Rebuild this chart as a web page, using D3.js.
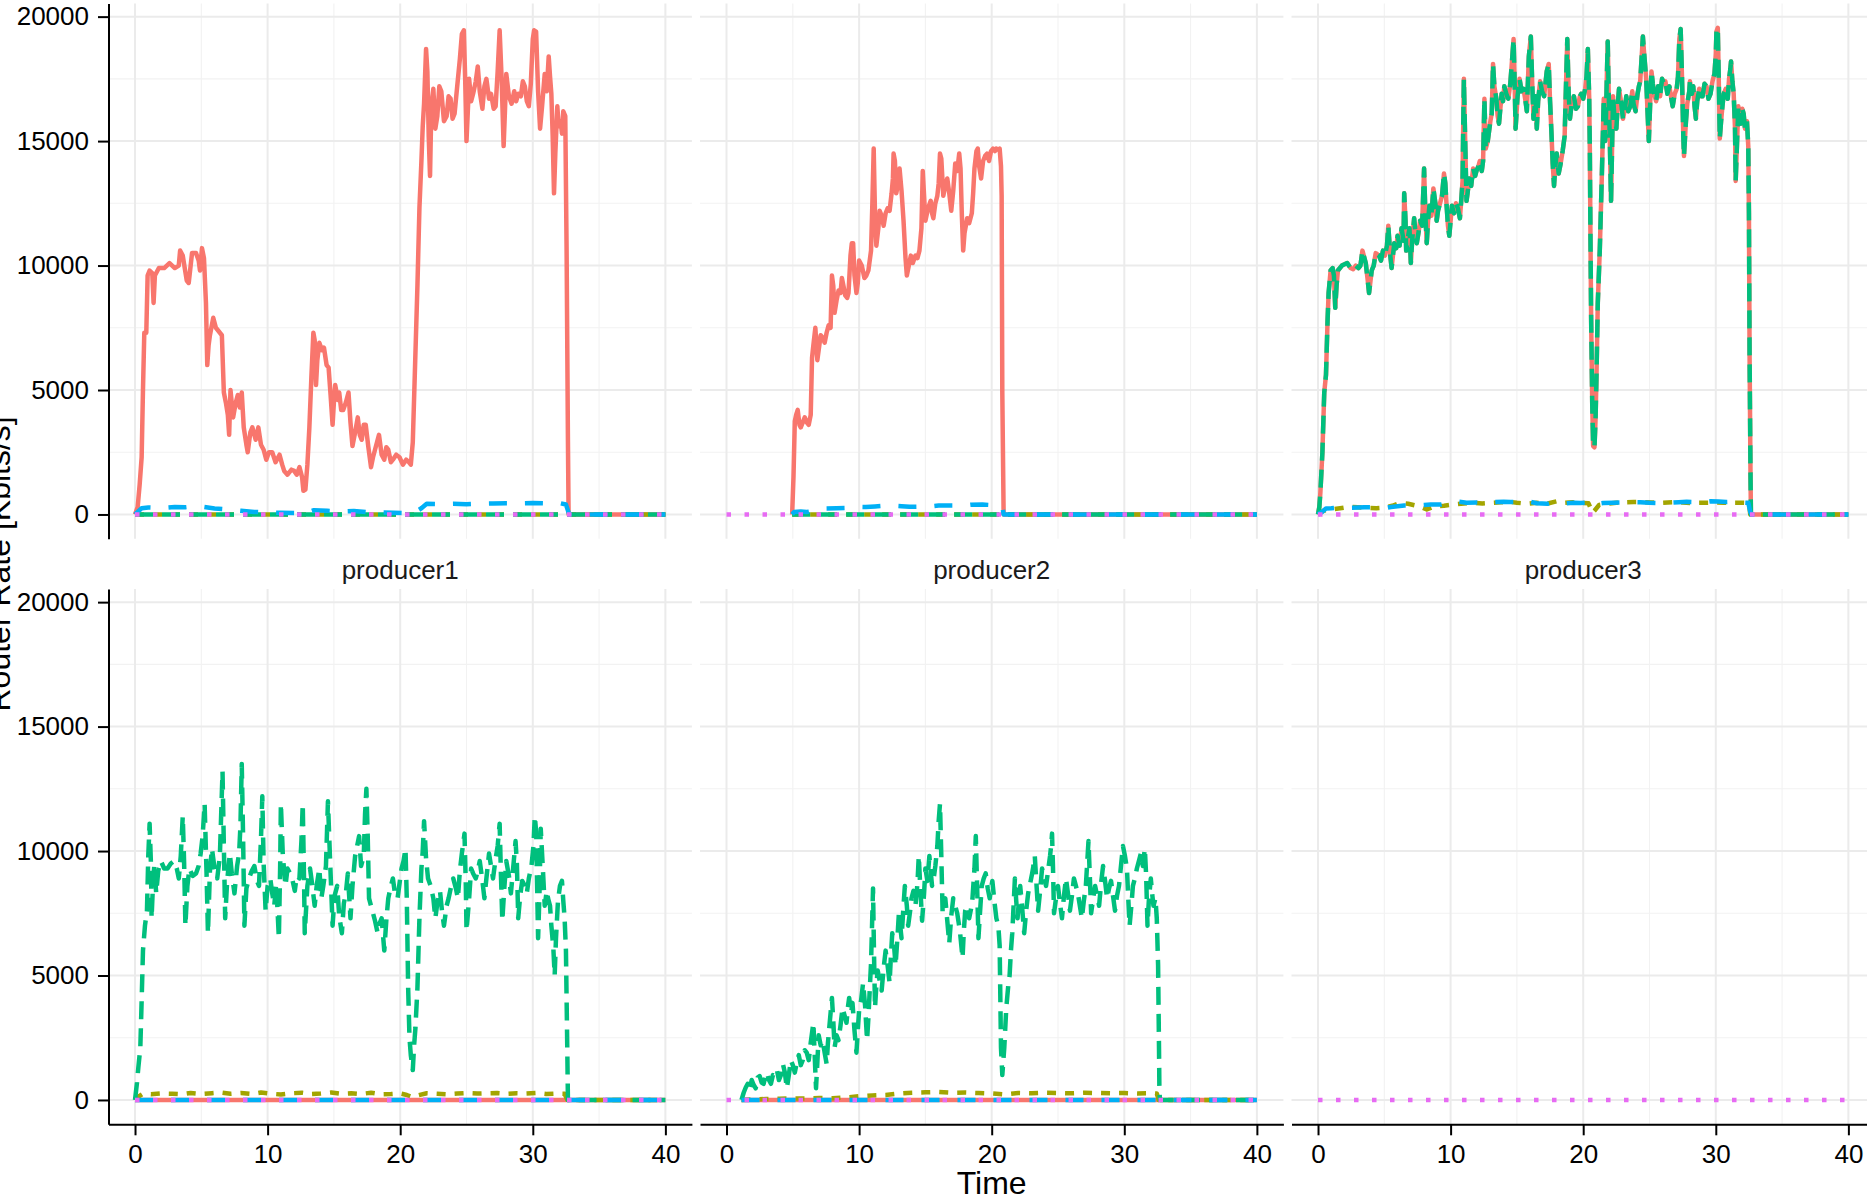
<!DOCTYPE html>
<html>
<head>
<meta charset="utf-8">
<script src="https://cdn.jsdelivr.net/npm/d3@7"></script>
<style>
  html, body { margin: 0; padding: 0; background: #ffffff; }
  svg { display: block; }
  text { font-family: "Liberation Sans", Arial, Helvetica, sans-serif; }
</style>
</head>
<body>
<div id="chart"></div>
<script>
// ---------------- data ----------------
const timeTicks = [0, 10, 20, 30, 40];
const rateTicks = [0, 5000, 10000, 15000, 20000];
const nodes = ["consumer1", "consumer2", "consumer3", "producer1", "producer2", "producer3"];
const types = ["InData", "InInterests", "OutData", "OutInterests", "TimedOutInterests"];
const xLabel = "Time";
const yLabel = "Router Rate [Kbits/s]";

// consumer1
const consumer1_InData = [[0,0],[0.2,300],[0.35,1200],[0.5,2300],[0.6,5000],[0.7,7300],[0.85,7300],[0.95,9600],[1.1,9800],[1.3,9700],[1.4,8500],[1.5,9600],[1.8,9900],[2.2,9900],[2.6,10100],[3.0,9900],[3.3,10000],[3.4,10600],[3.6,10400],[3.9,9400],[4.05,9300],[4.3,10500],[4.6,10500],[4.8,10200],[4.9,9800],[5.05,10700],[5.2,10300],[5.35,8500],[5.45,6000],[5.55,6800],[5.65,7200],[5.9,7900],[6.1,7500],[6.4,7300],[6.55,7200],[6.7,4900],[6.85,4500],[7.0,4000],[7.1,3200],[7.2,5000],[7.4,3900],[7.6,4500],[7.75,4800],[7.9,4300],[8.05,4900],[8.2,3500],[8.4,2800],[8.5,2500],[8.7,3300],[8.85,3500],[9.1,3000],[9.3,3500],[9.5,2800],[9.7,2600],[9.9,2200],[10.1,2500],[10.35,2500],[10.6,2100],[10.9,2400],[11.1,2000],[11.25,1750],[11.5,1600],[11.8,1800],[12.0,1750],[12.2,1600],[12.4,1900],[12.6,1500],[12.7,950],[12.85,1000],[13.0,2000],[13.15,3500],[13.3,5500],[13.45,7300],[13.55,7000],[13.65,5200],[13.75,6200],[13.9,6900],[14.1,6600],[14.25,6700],[14.45,6000],[14.6,5900],[14.75,4800],[14.9,3600],[15.0,4500],[15.1,5200],[15.3,4600],[15.4,4900],[15.55,4200],[15.7,4200],[15.9,4500],[16.1,4900],[16.25,3700],[16.4,2750],[16.6,3300],[16.8,3900],[16.95,3200],[17.1,3000],[17.25,3600],[17.4,3600],[17.6,2700],[17.8,1900],[17.95,2300],[18.1,2600],[18.25,2900],[18.4,3200],[18.6,2400],[18.8,2200],[18.95,2700],[19.1,2600],[19.3,2100],[19.45,2200],[19.7,2400],[19.95,2300],[20.2,2000],[20.45,2200],[20.65,2100],[20.8,2000],[20.95,2900],[21.1,5600],[21.3,9200],[21.45,12300],[21.6,14200],[21.7,15600],[21.8,16500],[21.95,18700],[22.05,17800],[22.15,15200],[22.25,13600],[22.35,16400],[22.5,17100],[22.65,15500],[22.8,16000],[22.95,17200],[23.1,17000],[23.3,15800],[23.5,16000],[23.65,16800],[23.8,16700],[23.95,15900],[24.1,16100],[24.3,17200],[24.5,18300],[24.65,19300],[24.8,19450],[24.9,17500],[25.0,15000],[25.1,16200],[25.2,17500],[25.35,16600],[25.5,16900],[25.7,17400],[25.85,18000],[26.0,17000],[26.2,16300],[26.35,17200],[26.5,17500],[26.7,16700],[26.85,16900],[27.05,16300],[27.2,16400],[27.35,17800],[27.5,19450],[27.65,17500],[27.8,14800],[27.9,16200],[28.0,17700],[28.2,16800],[28.4,16500],[28.6,17000],[28.75,16600],[28.9,16900],[29.1,16800],[29.25,17400],[29.4,17200],[29.55,16600],[29.7,16400],[29.85,17300],[30.0,19100],[30.1,19450],[30.25,19400],[30.4,17000],[30.55,15500],[30.7,16400],[30.9,17700],[31.05,17000],[31.2,18400],[31.3,17600],[31.4,16900],[31.5,15200],[31.6,12900],[31.7,14500],[31.85,16400],[31.95,15600],[32.1,15800],[32.2,15300],[32.3,16200],[32.45,16000],[32.55,10600],[32.65,3000],[32.7,0],[40,0]];
const consumer1_InInterests = [[0,0],[40,0]];
const consumer1_OutData = [[0,0],[40,0]];
const consumer1_OutInterests = [[0,0],[0.3,150],[0.5,250],[1,280],[2,260],[3,300],[3.8,290],[4.5,330],[5.2,300],[6,240],[7,200],[8,150],[9,100],[10,80],[11,70],[12,60],[13,80],[13.5,170],[14.5,150],[15.5,120],[16.5,140],[17.5,90],[18.5,80],[19.5,70],[20.5,60],[21.2,120],[21.6,250],[22,430],[23,420],[24,430],[25,410],[26,430],[27,440],[28,450],[29,450],[30,460],[31,450],[32,460],[32.5,400],[32.75,0],[40,0]];
const consumer1_TimedOutInterests = [[0,0],[40,0]];

// consumer2
const consumer2_InData = [[4.95,0],[5.05,1500],[5.15,3750],[5.25,4000],[5.37,4200],[5.5,3600],[5.6,3500],[5.75,3700],[5.9,3900],[6.05,3700],[6.2,3600],[6.35,4000],[6.45,6300],[6.55,6800],[6.7,7500],[6.85,6200],[7.0,6800],[7.1,7200],[7.25,7100],[7.4,6900],[7.55,7300],[7.7,7600],[7.85,7500],[7.95,9600],[8.05,9200],[8.15,8100],[8.3,8600],[8.45,9000],[8.6,8900],[8.7,9500],[8.85,9100],[8.95,8800],[9.1,8700],[9.2,8900],[9.35,10400],[9.45,10900],[9.55,10900],[9.65,9600],[9.8,8900],[9.9,9300],[10.0,10200],[10.2,10000],[10.4,9500],[10.55,9600],[10.7,9800],[10.9,10600],[11.0,12500],[11.1,14700],[11.2,12000],[11.3,10800],[11.45,11500],[11.55,12200],[11.7,12000],[11.85,11600],[12.0,12100],[12.15,12300],[12.3,12200],[12.45,12900],[12.55,13500],[12.6,14500],[12.7,14200],[12.8,12900],[12.95,13300],[13.05,13900],[13.2,13000],[13.35,11800],[13.5,10300],[13.6,9600],[13.75,10000],[13.9,10400],[14.05,10100],[14.25,10400],[14.4,10300],[14.55,10600],[14.7,11500],[14.8,13800],[14.9,12800],[15.0,11800],[15.2,12300],[15.4,12600],[15.5,12100],[15.6,11900],[15.75,12500],[15.9,12800],[16.0,13300],[16.1,14500],[16.2,14300],[16.35,12800],[16.5,13200],[16.65,13500],[16.8,12900],[16.95,12200],[17.1,13000],[17.25,14100],[17.4,13800],[17.55,14500],[17.65,13900],[17.75,12000],[17.85,10600],[17.95,11300],[18.15,11900],[18.3,11700],[18.5,12100],[18.6,12900],[18.7,13900],[18.85,14600],[18.95,14700],[19.05,14000],[19.2,13500],[19.35,14200],[19.5,14400],[19.65,14500],[19.8,14200],[19.95,14600],[20.1,14700],[20.25,14600],[20.35,14700],[20.5,14650],[20.6,14700],[20.7,14000],[20.75,12800],[20.8,4900],[20.9,0],[40,0]];
const consumer2_InInterests = [[4.95,0],[40,0]];
const consumer2_OutData = [[4.95,0],[40,0]];
const consumer2_OutInterests = [[4.95,0],[5.1,100],[5.6,120],[6.05,100],[6.6,150],[7.4,240],[8.3,250],[9.0,260],[9.6,310],[10.5,300],[11.2,320],[11.7,340],[12.6,350],[13.2,330],[13.8,310],[14.85,320],[15.5,330],[16.0,360],[17.2,360],[17.8,350],[18.4,390],[19.3,400],[19.9,380],[20.5,340],[20.8,340],[20.9,0],[40,0]];
const consumer2_TimedOutInterests = [[0,0],[40,0]];

// consumer3
const consumer3_InData = [[0,0],[0.1,300],[0.18,900],[0.33,2500],[0.47,4900],[0.6,5600],[0.72,7800],[0.8,8900],[0.95,9800],[1.1,9900],[1.2,9600],[1.3,8300],[1.4,9200],[1.5,9800],[1.8,10000],[2.2,10100],[2.45,9900],[2.65,9850],[2.85,10000],[3.05,9900],[3.2,10000],[3.35,10600],[3.5,10300],[3.6,10100],[3.75,9400],[3.85,8900],[4.05,9800],[4.2,10000],[4.35,10500],[4.6,10400],[4.75,10200],[4.9,10600],[5.05,10400],[5.2,10800],[5.3,11600],[5.45,10400],[5.55,9900],[5.75,10900],[5.9,10700],[6.0,11200],[6.15,10800],[6.3,11500],[6.45,11000],[6.5,12900],[6.6,11800],[6.65,10600],[6.8,11200],[6.9,11500],[7.0,10100],[7.1,11000],[7.25,11900],[7.35,11300],[7.45,10900],[7.6,11400],[7.7,11800],[7.85,11600],[8.0,13900],[8.1,12000],[8.2,10900],[8.3,11800],[8.4,12400],[8.55,12000],[8.7,13100],[8.85,12500],[8.95,11800],[9.05,12200],[9.15,12400],[9.35,12800],[9.5,13700],[9.6,13300],[9.7,12400],[9.8,11600],[9.9,11200],[10.1,12400],[10.25,12100],[10.4,12500],[10.55,12300],[10.7,11900],[10.8,12600],[10.9,13400],[10.95,15500],[11.0,17500],[11.1,15000],[11.2,12600],[11.3,13000],[11.4,13500],[11.55,13200],[11.7,13900],[11.85,13600],[11.95,13800],[12.1,14000],[12.2,14200],[12.35,13800],[12.45,14200],[12.55,16700],[12.65,14700],[12.8,15000],[12.9,15400],[13.0,15800],[13.1,16100],[13.2,18100],[13.3,17200],[13.45,16700],[13.55,16000],[13.65,15700],[13.75,16300],[13.85,16900],[13.95,16600],[14.05,17200],[14.2,16900],[14.35,16700],[14.5,17300],[14.6,18000],[14.75,19100],[14.82,17600],[14.9,15500],[15.05,16800],[15.2,17500],[15.35,17000],[15.5,17100],[15.65,16600],[15.75,16200],[15.9,18400],[16.05,19200],[16.15,17400],[16.25,15900],[16.4,16800],[16.5,15500],[16.6,16600],[16.75,17400],[16.9,17000],[17.05,16800],[17.15,17300],[17.25,17800],[17.4,18100],[17.5,16600],[17.6,15400],[17.7,14100],[17.8,13200],[17.9,14000],[18.0,14500],[18.15,13700],[18.3,14100],[18.45,14600],[18.6,15200],[18.7,17200],[18.8,19100],[18.9,17000],[19.0,15900],[19.15,16600],[19.3,16800],[19.45,16300],[19.6,16400],[19.75,16800],[19.85,16900],[20.0,16700],[20.15,17100],[20.25,17600],[20.35,18700],[20.45,16800],[20.5,14700],[20.55,11000],[20.6,7800],[20.68,4500],[20.75,2750],[20.85,2700],[20.93,3800],[21.0,5500],[21.1,8500],[21.25,10600],[21.4,13500],[21.55,16700],[21.65,15000],[21.7,15500],[21.78,17500],[21.85,19000],[21.92,17000],[22.0,15200],[22.1,12600],[22.18,14800],[22.25,16800],[22.35,16000],[22.5,15500],[22.6,16400],[22.7,17100],[22.85,16600],[23.0,15900],[23.15,16300],[23.25,16800],[23.4,16200],[23.55,16400],[23.7,17000],[23.8,16500],[23.95,16200],[24.1,16900],[24.2,17200],[24.3,17400],[24.4,18300],[24.5,19200],[24.6,18500],[24.75,17500],[24.85,16200],[24.95,15000],[25.05,16500],[25.15,17800],[25.25,17300],[25.35,16900],[25.5,16600],[25.65,17200],[25.8,16800],[25.95,17500],[26.1,17300],[26.2,17400],[26.35,16900],[26.5,17200],[26.65,16700],[26.75,16400],[26.9,16900],[27.05,17100],[27.15,17600],[27.25,19100],[27.35,19500],[27.45,17600],[27.55,15200],[27.6,14400],[27.75,15800],[27.85,16500],[28.0,17000],[28.05,17400],[28.2,16900],[28.3,17200],[28.4,16400],[28.5,15900],[28.6,16600],[28.75,17100],[28.9,16800],[29.0,16800],[29.15,17300],[29.3,17200],[29.45,16700],[29.6,16900],[29.75,17400],[29.9,17700],[30.0,18500],[30.05,19400],[30.15,19550],[30.22,17600],[30.3,15100],[30.4,15800],[30.5,16400],[30.6,16900],[30.75,17100],[30.9,16700],[31.0,17500],[31.1,17900],[31.15,18200],[31.25,17400],[31.35,16900],[31.45,15500],[31.5,13400],[31.6,14900],[31.7,16400],[31.8,15900],[31.9,15700],[32.0,16300],[32.1,16100],[32.2,15500],[32.35,15800],[32.45,14800],[32.5,12100],[32.55,6300],[32.62,1500],[32.65,0],[40,0]];
const consumer3_InInterests = [[0,0],[0.4,150],[1.0,200],[1.8,260],[2.4,310],[3.0,290],[3.6,260],[4.4,250],[5.0,270],[5.6,350],[6.2,470],[6.8,430],[7.6,330],[8.2,200],[8.8,330],[9.5,350],[10.2,400],[11.0,440],[11.8,460],[12.4,440],[13.2,470],[13.8,490],[14.4,510],[15.0,470],[15.8,430],[16.5,470],[17.3,440],[18.0,530],[18.6,470],[19.2,490],[19.8,460],[20.4,450],[20.6,200],[20.7,70],[20.85,150],[21.2,380],[21.8,430],[22.5,470],[23.2,490],[23.8,500],[24.5,500],[25.2,480],[26.0,470],[26.8,490],[27.5,480],[28.2,460],[29.0,470],[29.8,480],[30.6,470],[31.4,470],[32.0,470],[32.5,460],[32.6,0],[40,0]];
const consumer3_OutData = [[0,0],[0.1,300],[0.18,900],[0.33,2500],[0.47,4900],[0.6,5600],[0.72,7800],[0.8,8900],[0.95,9800],[1.1,9900],[1.2,9600],[1.3,8300],[1.4,9200],[1.5,9800],[1.8,10000],[2.2,10100],[2.45,9900],[2.65,9850],[2.85,10000],[3.05,9900],[3.2,10000],[3.35,10600],[3.5,10300],[3.6,10100],[3.75,9400],[3.85,8900],[4.05,9800],[4.2,10000],[4.35,10500],[4.6,10400],[4.75,10200],[4.9,10600],[5.05,10400],[5.2,10800],[5.3,11600],[5.45,10400],[5.55,9900],[5.75,10900],[5.9,10700],[6.0,11200],[6.15,10800],[6.3,11500],[6.45,11000],[6.5,12900],[6.6,11800],[6.65,10600],[6.8,11200],[6.9,11500],[7.0,10100],[7.1,11000],[7.25,11900],[7.35,11300],[7.45,10900],[7.6,11400],[7.7,11800],[7.85,11600],[8.0,13900],[8.1,12000],[8.2,10900],[8.3,11800],[8.4,12400],[8.55,12000],[8.7,13100],[8.85,12500],[8.95,11800],[9.05,12200],[9.15,12400],[9.35,12800],[9.5,13700],[9.6,13300],[9.7,12400],[9.8,11600],[9.9,11200],[10.1,12400],[10.25,12100],[10.4,12500],[10.55,12300],[10.7,11900],[10.8,12600],[10.9,13400],[10.95,15500],[11.0,17500],[11.1,15000],[11.2,12600],[11.3,13000],[11.4,13500],[11.55,13200],[11.7,13900],[11.85,13600],[11.95,13800],[12.1,14000],[12.2,14200],[12.35,13800],[12.45,14200],[12.55,16700],[12.65,14700],[12.8,15000],[12.9,15400],[13.0,15800],[13.1,16100],[13.2,18100],[13.3,17200],[13.45,16700],[13.55,16000],[13.65,15700],[13.75,16300],[13.85,16900],[13.95,16600],[14.05,17200],[14.2,16900],[14.35,16700],[14.5,17300],[14.6,18000],[14.75,19100],[14.82,17600],[14.9,15500],[15.05,16800],[15.2,17500],[15.35,17000],[15.5,17100],[15.65,16600],[15.75,16200],[15.9,18400],[16.05,19200],[16.15,17400],[16.25,15900],[16.4,16800],[16.5,15500],[16.6,16600],[16.75,17400],[16.9,17000],[17.05,16800],[17.15,17300],[17.25,17800],[17.4,18100],[17.5,16600],[17.6,15400],[17.7,14100],[17.8,13200],[17.9,14000],[18.0,14500],[18.15,13700],[18.3,14100],[18.45,14600],[18.6,15200],[18.7,17200],[18.8,19100],[18.9,17000],[19.0,15900],[19.15,16600],[19.3,16800],[19.45,16300],[19.6,16400],[19.75,16800],[19.85,16900],[20.0,16700],[20.15,17100],[20.25,17600],[20.35,18700],[20.45,16800],[20.5,14700],[20.55,11000],[20.6,7800],[20.68,4500],[20.75,2750],[20.85,2700],[20.93,3800],[21.0,5500],[21.1,8500],[21.25,10600],[21.4,13500],[21.55,16700],[21.65,15000],[21.7,15500],[21.78,17500],[21.85,19000],[21.92,17000],[22.0,15200],[22.1,12600],[22.18,14800],[22.25,16800],[22.35,16000],[22.5,15500],[22.6,16400],[22.7,17100],[22.85,16600],[23.0,15900],[23.15,16300],[23.25,16800],[23.4,16200],[23.55,16400],[23.7,17000],[23.8,16500],[23.95,16200],[24.1,16900],[24.2,17200],[24.3,17400],[24.4,18300],[24.5,19200],[24.6,18500],[24.75,17500],[24.85,16200],[24.95,15000],[25.05,16500],[25.15,17800],[25.25,17300],[25.35,16900],[25.5,16600],[25.65,17200],[25.8,16800],[25.95,17500],[26.1,17300],[26.2,17400],[26.35,16900],[26.5,17200],[26.65,16700],[26.75,16400],[26.9,16900],[27.05,17100],[27.15,17600],[27.25,19100],[27.35,19500],[27.45,17600],[27.55,15200],[27.6,14400],[27.75,15800],[27.85,16500],[28.0,17000],[28.05,17400],[28.2,16900],[28.3,17200],[28.4,16400],[28.5,15900],[28.6,16600],[28.75,17100],[28.9,16800],[29.0,16800],[29.15,17300],[29.3,17200],[29.45,16700],[29.6,16900],[29.75,17400],[29.9,17700],[30.0,18500],[30.05,19400],[30.15,19550],[30.22,17600],[30.3,15100],[30.4,15800],[30.5,16400],[30.6,16900],[30.75,17100],[30.9,16700],[31.0,17500],[31.1,17900],[31.15,18200],[31.25,17400],[31.35,16900],[31.45,15500],[31.5,13400],[31.6,14900],[31.7,16400],[31.8,15900],[31.9,15700],[32.0,16300],[32.1,16100],[32.2,15500],[32.35,15800],[32.45,14800],[32.5,12100],[32.55,6300],[32.62,1500],[32.65,0],[40,0]];
const consumer3_OutInterests = [[0,0],[0.3,100],[0.6,240],[1.0,250],[1.5,270],[2.3,270],[3.0,280],[3.5,290],[4.3,290],[5.0,250],[5.5,300],[6.0,330],[6.5,360],[7.3,360],[8.0,380],[8.5,400],[9.3,400],[10.0,470],[10.5,520],[11.2,470],[12.0,480],[12.5,470],[13.2,500],[14.0,510],[14.5,500],[15.2,500],[16.0,510],[16.5,450],[17.3,430],[17.8,500],[18.5,440],[19.3,470],[19.8,460],[20.3,470],[20.6,400],[20.75,350],[21.0,420],[21.5,460],[22.3,470],[23.0,480],[23.5,500],[24.3,490],[25.0,470],[25.6,460],[26.5,470],[27.2,490],[27.8,510],[28.4,500],[29.0,490],[29.6,530],[30.2,520],[30.8,500],[31.4,510],[32.0,480],[32.45,470],[32.6,100],[32.7,0],[40,0]];
const consumer3_TimedOutInterests = [[0,0],[40,0]];

// producer1
const producer1_InData = [[0,0],[40,0]];
const producer1_InInterests = [[0,0],[0.3,150],[0.6,250],[1.2,230],[2.0,260],[2.8,250],[3.5,230],[4.2,280],[5.0,240],[5.8,270],[6.5,300],[7.2,250],[8.0,280],[8.8,240],[9.5,300],[10.3,250],[11.0,220],[11.8,270],[12.6,290],[13.3,240],[14.0,260],[14.8,300],[15.5,250],[16.3,270],[17.0,240],[17.8,290],[18.5,230],[19.3,240],[20.0,260],[20.5,200],[20.9,120],[21.3,180],[22.0,270],[22.8,250],[23.5,230],[24.3,260],[25.0,280],[25.8,260],[26.5,270],[27.3,280],[28.0,250],[28.8,270],[29.5,260],[30.3,280],[31.0,240],[31.8,260],[32.4,250],[32.6,0],[40,0]];
const producer1_OutData = [[0,0],[0.15,700],[0.25,1300],[0.4,2100],[0.5,4000],[0.6,6000],[0.75,7000],[0.9,7600],[1.0,9800],[1.1,11100],[1.2,9500],[1.25,7300],[1.35,8600],[1.45,9400],[1.6,8300],[1.75,9200],[1.95,9600],[2.2,9300],[2.45,9300],[2.7,9500],[2.95,9600],[3.15,9300],[3.3,8900],[3.45,9800],[3.6,11400],[3.7,9600],[3.8,7000],[3.95,8600],[4.1,9300],[4.35,9000],[4.6,9100],[4.8,9400],[4.95,9900],[5.1,10600],[5.25,11900],[5.4,9000],[5.5,6700],[5.65,9200],[5.8,10100],[6.0,9300],[6.2,8900],[6.4,9800],[6.6,13200],[6.7,10200],[6.8,7300],[6.95,8800],[7.15,9900],[7.3,9100],[7.5,8300],[7.7,9400],[7.85,9900],[7.95,11000],[8.05,13500],[8.15,10600],[8.25,7000],[8.4,8500],[8.6,8900],[8.8,9200],[9.0,9400],[9.2,8800],[9.35,8600],[9.5,10500],[9.6,12200],[9.7,9500],[9.85,7600],[10.0,8600],[10.2,8900],[10.35,8300],[10.5,7800],[10.65,8700],[10.85,6500],[10.95,9500],[11.0,11900],[11.15,9800],[11.35,8600],[11.5,9300],[11.7,9100],[11.85,8900],[12.05,8400],[12.2,9000],[12.4,8900],[12.55,10400],[12.65,11900],[12.75,8800],[12.8,6700],[13.0,8600],[13.2,9300],[13.35,8700],[13.55,7800],[13.7,8600],[13.9,9300],[14.05,8100],[14.2,8600],[14.4,9400],[14.55,12000],[14.7,9800],[14.9,7000],[15.05,8200],[15.25,8600],[15.4,7400],[15.6,6700],[15.75,7900],[15.9,8300],[16.05,9100],[16.25,7300],[16.4,8600],[16.6,9800],[16.75,10200],[16.9,10600],[17.05,9400],[17.25,9800],[17.35,11500],[17.45,12500],[17.55,10600],[17.65,8100],[17.8,7800],[17.95,7500],[18.1,7200],[18.3,6700],[18.45,7100],[18.6,7300],[18.8,6000],[18.95,7200],[19.1,8100],[19.3,8600],[19.45,8900],[19.6,8300],[19.8,8100],[19.95,8700],[20.1,9300],[20.25,9600],[20.4,10100],[20.5,8000],[20.6,4500],[20.7,2500],[20.8,1800],[20.95,1200],[21.05,2200],[21.15,2900],[21.3,4500],[21.45,7300],[21.6,9300],[21.7,10000],[21.8,11200],[21.95,9700],[22.1,8900],[22.3,8600],[22.5,8100],[22.65,7300],[22.8,7900],[23.0,8400],[23.15,7600],[23.3,7000],[23.5,7800],[23.65,8100],[23.85,8600],[24.0,8900],[24.2,8500],[24.35,8100],[24.5,9200],[24.65,9900],[24.85,10700],[24.95,8600],[25.0,6800],[25.2,8100],[25.35,9300],[25.5,9100],[25.7,8900],[25.85,9200],[26.0,9600],[26.2,8800],[26.35,8100],[26.5,8900],[26.7,9900],[26.85,9400],[27.0,8900],[27.2,9700],[27.35,10200],[27.5,11100],[27.6,9000],[27.7,7200],[27.85,8500],[28.0,9600],[28.2,9000],[28.35,8300],[28.5,9200],[28.7,10400],[28.8,9500],[28.9,7300],[29.05,8200],[29.2,8800],[29.4,8600],[29.55,8300],[29.7,8900],[29.9,9400],[30.05,10200],[30.15,11400],[30.25,10800],[30.4,6500],[30.5,8200],[30.6,10900],[30.75,9400],[30.9,7800],[31.05,8400],[31.15,8100],[31.3,7800],[31.4,7000],[31.55,6100],[31.65,5000],[31.75,6500],[31.9,8000],[32.05,8600],[32.2,8800],[32.3,8000],[32.4,7300],[32.5,6000],[32.6,2100],[32.65,0],[40,0]];
const producer1_OutInterests = [[0,0],[40,0]];
const producer1_TimedOutInterests = [[0,0],[40,0]];

// producer2
const producer2_InData = [[1.13,0],[40,0]];
const producer2_InInterests = [[1.13,0],[2.0,20],[3.0,40],[4.0,50],[5.0,60],[6.0,60],[7.0,80],[8.0,70],[9.0,100],[10.0,150],[11.0,180],[12.0,200],[13.0,260],[14.0,290],[15.0,310],[16.0,320],[17.0,290],[18.0,300],[19.0,280],[20.0,260],[21.0,220],[22.0,280],[23.0,270],[24.0,290],[25.0,280],[26.0,270],[27.0,290],[28.0,280],[29.0,270],[30.0,280],[31.0,260],[32.0,270],[32.45,260],[32.6,0],[40,0]];
const producer2_OutData = [[1.13,0],[1.3,300],[1.45,500],[1.6,650],[1.75,400],[1.9,800],[2.05,600],[2.2,470],[2.35,900],[2.5,960],[2.65,700],[2.8,650],[2.95,1000],[3.05,1100],[3.2,800],[3.35,650],[3.5,1000],[3.65,960],[3.8,1200],[3.95,800],[4.1,1000],[4.25,1450],[4.4,1100],[4.55,470],[4.7,1000],[4.85,1600],[5.0,1400],[5.15,1100],[5.3,1500],[5.45,1800],[5.6,1400],[5.75,1600],[5.9,2000],[6.05,1900],[6.2,1600],[6.35,2300],[6.45,2700],[6.55,3100],[6.65,1800],[6.75,470],[6.85,1500],[6.95,2600],[7.1,2200],[7.25,2400],[7.4,1900],[7.55,1450],[7.65,2300],[7.75,2900],[7.85,3500],[7.95,4100],[8.05,3200],[8.15,2100],[8.3,2600],[8.45,2400],[8.6,3000],[8.75,3700],[8.9,3400],[9.05,3100],[9.15,3700],[9.25,4100],[9.4,3500],[9.5,3900],[9.65,2800],[9.8,1900],[9.9,2800],[10.0,3600],[10.15,4000],[10.3,4700],[10.45,3800],[10.6,2400],[10.7,3300],[10.8,4400],[10.9,5500],[11.0,7500],[11.05,8500],[11.12,6000],[11.2,3700],[11.3,4600],[11.4,5200],[11.55,4800],[11.7,4400],[11.85,5300],[12.0,6000],[12.15,5400],[12.3,4700],[12.4,5800],[12.5,6700],[12.65,6100],[12.75,5400],[12.9,6600],[13.0,7500],[13.1,7000],[13.2,6500],[13.35,7800],[13.45,8600],[13.6,7800],[13.7,7000],[13.85,7600],[13.95,8100],[14.1,8400],[14.25,7800],[14.4,8700],[14.5,9800],[14.6,8700],[14.75,7200],[14.9,8300],[15.0,9300],[15.15,8800],[15.3,9800],[15.4,9200],[15.5,8600],[15.65,9000],[15.75,9400],[15.9,10200],[16.0,11200],[16.1,11900],[16.2,9800],[16.3,7500],[16.4,7900],[16.5,8100],[16.65,7200],[16.8,6300],[16.95,7400],[17.1,8100],[17.25,7800],[17.4,7500],[17.6,6800],[17.8,5700],[17.9,6800],[18.0,7600],[18.15,7800],[18.3,7300],[18.45,7700],[18.55,8100],[18.7,9300],[18.8,10600],[18.9,8600],[19.0,6500],[19.15,7800],[19.25,8600],[19.4,8900],[19.55,9100],[19.7,8500],[19.85,8100],[19.95,8500],[20.05,8800],[20.2,8000],[20.35,7300],[20.5,7000],[20.6,6200],[20.7,2100],[20.8,1000],[20.95,2100],[21.1,3700],[21.25,4600],[21.35,5000],[21.45,6000],[21.55,6700],[21.65,7800],[21.75,8900],[21.85,8000],[21.95,7300],[22.05,8000],[22.15,8600],[22.3,7700],[22.45,6700],[22.6,7600],[22.75,8300],[22.9,8700],[23.05,9100],[23.15,9400],[23.25,9800],[23.35,8900],[23.5,7600],[23.65,8400],[23.8,9300],[23.95,8900],[24.1,8600],[24.25,9200],[24.4,9800],[24.5,10300],[24.55,10700],[24.62,9400],[24.7,7500],[24.85,8100],[25.0,8600],[25.15,7900],[25.3,7300],[25.45,8200],[25.6,8900],[25.75,8300],[25.9,7600],[26.05,8200],[26.2,8900],[26.35,8600],[26.5,8300],[26.65,7800],[26.8,7300],[26.95,8000],[27.1,8600],[27.2,9500],[27.3,10400],[27.4,9000],[27.5,7500],[27.65,8100],[27.8,8600],[27.95,8200],[28.1,7800],[28.25,8700],[28.4,9400],[28.55,8800],[28.7,8100],[28.85,8500],[29.0,8800],[29.15,8200],[29.3,7600],[29.45,8200],[29.6,8600],[29.75,9400],[29.9,10200],[30.05,9800],[30.2,9300],[30.3,8100],[30.4,7000],[30.55,7900],[30.65,8600],[30.8,8900],[30.95,9300],[31.1,9600],[31.25,9900],[31.4,9400],[31.55,10100],[31.65,9000],[31.75,7000],[31.85,8000],[32.0,8900],[32.1,8300],[32.2,7800],[32.35,8100],[32.45,7300],[32.55,5400],[32.62,2000],[32.65,300],[32.7,0],[40,0]];
const producer2_OutInterests = [[1.13,0],[40,0]];
const producer2_TimedOutInterests = [[0,0],[40,0]];

// producer3
const producer3_TimedOutInterests = [[0,0],[40,0]];

// ---------------- styling ----------------
const typeColors = ["#F8766D", "#A3A500", "#00BF7D", "#00B0F6", "#E76BF3"];
const typeDashes = [null, [2, 2], [4, 2], [4, 4], [1, 3]];
const lineW = 4.5;

const W = 1867, H = 1197;
const colLeft = [108.5, 700, 1291.5];
const rowTop = [3.5, 589];
const panelW = 583.4, panelH = 535.3;

const seriesByNode = {
  consumer1: [consumer1_InData, consumer1_InInterests, consumer1_OutData, consumer1_OutInterests, consumer1_TimedOutInterests],
  consumer2: [consumer2_InData, consumer2_InInterests, consumer2_OutData, consumer2_OutInterests, consumer2_TimedOutInterests],
  consumer3: [consumer3_InData, consumer3_InInterests, consumer3_OutData, consumer3_OutInterests, consumer3_TimedOutInterests],
  producer1: [producer1_InData, producer1_InInterests, producer1_OutData, producer1_OutInterests, producer1_TimedOutInterests],
  producer2: [producer2_InData, producer2_InInterests, producer2_OutData, producer2_OutInterests, producer2_TimedOutInterests],
  producer3: [null, null, null, null, producer3_TimedOutInterests]
};

// scales (ggplot-like 5% expansion)
const allPts = Object.values(seriesByNode).flat().filter(Boolean).flat();
const tExt = [0, 40];
const vMax = d3.max(allPts, d => d[1]);
const vMin = 0;
const tPad = (tExt[1] - tExt[0]) * 0.05;
const vPad = (vMax - vMin) * 0.05;

const svg = d3.select("#chart").append("svg")
  .attr("width", W).attr("height", H)
  .attr("viewBox", `0 0 ${W} ${H}`);
svg.append("rect").attr("width", W).attr("height", H).attr("fill", "#ffffff");

const defs = svg.append("defs");

nodes.forEach((node, i) => {
  const row = Math.floor(i / 3), col = i % 3;
  const x0 = colLeft[col], y0 = rowTop[row];
  const x = d3.scaleLinear().domain([tExt[0] - tPad, tExt[1] + tPad]).range([x0, x0 + panelW]);
  const y = d3.scaleLinear().domain([vMin - vPad, vMax + vPad]).range([y0 + panelH, y0]);

  const g = svg.append("g").attr("class", "panel");

  // grid
  const minorX = d3.pairs(timeTicks).map(p => (p[0] + p[1]) / 2);
  const minorY = d3.pairs(rateTicks).map(p => (p[0] + p[1]) / 2);
  g.selectAll(".minx").data(minorX).join("line")
    .attr("x1", d => x(d)).attr("x2", d => x(d)).attr("y1", y0).attr("y2", y0 + panelH)
    .attr("stroke", "#f2f2f2").attr("stroke-width", 1.1);
  g.selectAll(".miny").data(minorY).join("line")
    .attr("y1", d => y(d)).attr("y2", d => y(d)).attr("x1", x0).attr("x2", x0 + panelW)
    .attr("stroke", "#f2f2f2").attr("stroke-width", 1.1);
  g.selectAll(".majx").data(timeTicks).join("line")
    .attr("x1", d => x(d)).attr("x2", d => x(d)).attr("y1", y0).attr("y2", y0 + panelH)
    .attr("stroke", "#ebebeb").attr("stroke-width", 2);
  g.selectAll(".majy").data(rateTicks).join("line")
    .attr("y1", d => y(d)).attr("y2", d => y(d)).attr("x1", x0).attr("x2", x0 + panelW)
    .attr("stroke", "#ebebeb").attr("stroke-width", 2);

  // clip
  const cid = "clip-" + node;
  defs.append("clipPath").attr("id", cid).append("rect")
    .attr("x", x0).attr("y", y0).attr("width", panelW).attr("height", panelH);

  const line = d3.line().x(d => x(d[0])).y(d => y(d[1]));
  const lg = g.append("g").attr("clip-path", `url(#${cid})`);
  seriesByNode[node].forEach((ser, k) => {
    if (!ser) return;
    lg.append("path")
      .attr("d", line(ser))
      .attr("fill", "none")
      .attr("stroke", typeColors[k])
      .attr("stroke-width", lineW)
      .attr("stroke-linejoin", "round")
      .attr("stroke-linecap", "butt")
      .attr("stroke-dasharray", typeDashes[k] ? typeDashes[k].map(v => v * lineW).join(",") : null);
  });

  // y axis (first column)
  if (col === 0) {
    const ay = g.append("g").attr("transform", `translate(${x0},0)`)
      .call(d3.axisLeft(y).tickValues(rateTicks).tickFormat(d3.format("d")).tickSize(10.5).tickPadding(9).tickSizeOuter(0));
    ay.select(".domain").attr("stroke", "#000").attr("stroke-width", 2);
    ay.selectAll(".tick line").attr("stroke", "#000").attr("stroke-width", 2);
    ay.selectAll(".tick text").attr("fill", "#000").style("font-size", "26px")
      .style("font-family", '"Liberation Sans", Arial, sans-serif');
  }
  // x axis (bottom row)
  if (row === 1) {
    const ax = g.append("g").attr("transform", `translate(0,${y0 + panelH})`)
      .call(d3.axisBottom(x).tickValues(timeTicks).tickFormat(d3.format("d")).tickSize(11).tickPadding(9).tickSizeOuter(0));
    ax.select(".domain").attr("stroke", "#000").attr("stroke-width", 2);
    ax.selectAll(".tick line").attr("stroke", "#000").attr("stroke-width", 2);
    ax.selectAll(".tick text").attr("fill", "#000").style("font-size", "26px")
      .style("font-family", '"Liberation Sans", Arial, sans-serif');
    // strip label (visible strip for bottom row sits between rows)
    g.append("text")
      .attr("x", x0 + panelW / 2).attr("y", y0 - 9.7)
      .attr("text-anchor", "middle")
      .attr("fill", "#1a1a1a")
      .style("font-size", "26px")
      .text(node);
  }
});

// axis titles
svg.append("text")
  .attr("x", colLeft[1] + panelW / 2).attr("y", 1194)
  .attr("text-anchor", "middle").attr("fill", "#000")
  .style("font-size", "32px")
  .text(xLabel);
svg.append("text")
  .attr("transform", `translate(10,${(rowTop[0] + rowTop[1] + panelH) / 2}) rotate(-90)`)
  .attr("text-anchor", "middle").attr("fill", "#000")
  .style("font-size", "32px")
  .text(yLabel);
</script>
</body>
</html>
